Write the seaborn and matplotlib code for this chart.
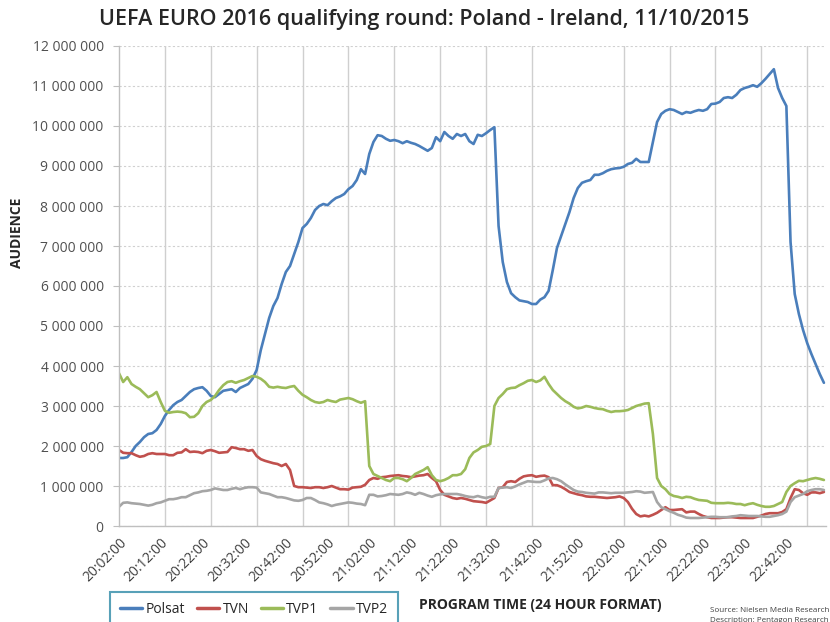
# ============================================================================
# IMPORTS
# ============================================================================

import numpy as np
import pandas as pd
import matplotlib
matplotlib.use('Agg')
import matplotlib.pyplot as plt
from matplotlib.ticker import FuncFormatter, MultipleLocator
import seaborn as sns

# ============================================================================
# DATA (audience in millions, one value per minute from 20:02)
# ============================================================================

channels = ['Polsat', 'TVN', 'TVP1', 'TVP2']
colors = ['#4a7ebb', '#c0504d', '#9bbb59', '#a5a5a5']

polsat = [
    1.70, 1.70, 1.72, 1.85, 2.00, 2.10, 2.22, 2.30, 2.32, 2.40,
    2.55, 2.75, 2.90, 3.02, 3.10, 3.15, 3.25, 3.35, 3.42, 3.45,
    3.47, 3.38, 3.25, 3.22, 3.30, 3.38, 3.40, 3.42, 3.35, 3.45,
    3.50, 3.55, 3.68, 3.90, 4.40, 4.80, 5.20, 5.50, 5.70, 6.05,
    6.35, 6.50, 6.80, 7.10, 7.45, 7.55, 7.70, 7.90, 8.00, 8.05,
    8.02, 8.12, 8.20, 8.24, 8.30, 8.42, 8.50, 8.65, 8.92, 8.80,
    9.30, 9.60, 9.77, 9.75, 9.68, 9.63, 9.65, 9.62, 9.57, 9.62,
    9.58, 9.55, 9.50, 9.44, 9.38, 9.45, 9.72, 9.62, 9.85, 9.75,
    9.68, 9.80, 9.75, 9.80, 9.62, 9.55, 9.78, 9.75, 9.82, 9.90,
    9.97, 7.50, 6.60, 6.10, 5.82, 5.72, 5.64, 5.62, 5.60, 5.55,
    5.55, 5.66, 5.72, 5.88, 6.40, 6.95, 7.25, 7.55, 7.85, 8.20,
    8.45, 8.58, 8.62, 8.65, 8.78, 8.78, 8.82, 8.88, 8.92, 8.94,
    8.95, 8.98, 9.05, 9.08, 9.18, 9.10, 9.10, 9.10, 9.60, 10.10,
    10.30, 10.38, 10.42, 10.40, 10.35, 10.30, 10.35, 10.33, 10.37, 10.40,
    10.38, 10.42, 10.55, 10.56, 10.60, 10.70, 10.72, 10.70, 10.78, 10.90,
    10.95, 10.98, 11.02, 10.98, 11.07, 11.18, 11.30, 11.42, 10.95, 10.70,
    10.50, 7.10, 5.80, 5.30, 4.90, 4.57, 4.30, 4.05, 3.80, 3.58,
]

tvn = [
    1.90, 1.83, 1.82, 1.82, 1.77, 1.73, 1.75, 1.80, 1.82, 1.80,
    1.80, 1.80, 1.77, 1.77, 1.83, 1.84, 1.92, 1.85, 1.86, 1.85,
    1.82, 1.88, 1.90, 1.87, 1.83, 1.84, 1.85, 1.97, 1.95, 1.92,
    1.92, 1.88, 1.90, 1.75, 1.67, 1.63, 1.60, 1.57, 1.55, 1.50,
    1.55, 1.40, 1.00, 0.97, 0.97, 0.96, 0.95, 0.97, 0.97, 0.95,
    0.97, 1.00, 0.96, 0.92, 0.92, 0.91, 0.96, 0.97, 0.98, 1.03,
    1.15, 1.20, 1.18, 1.22, 1.23, 1.25, 1.26, 1.27, 1.25, 1.24,
    1.22, 1.24, 1.26, 1.27, 1.30, 1.20, 1.12, 0.90, 0.78, 0.74,
    0.70, 0.68, 0.70, 0.68, 0.65, 0.62, 0.61, 0.60, 0.58, 0.64,
    0.70, 0.95, 0.97, 1.10, 1.12, 1.10, 1.18, 1.24, 1.26, 1.27,
    1.23, 1.25, 1.26, 1.22, 1.02, 1.02, 0.98, 0.92, 0.85, 0.82,
    0.79, 0.77, 0.74, 0.73, 0.73, 0.72, 0.71, 0.70, 0.71, 0.72,
    0.74, 0.70, 0.60, 0.43, 0.30, 0.24, 0.26, 0.24, 0.28, 0.33,
    0.40, 0.47, 0.40, 0.40, 0.41, 0.42, 0.34, 0.36, 0.36, 0.30,
    0.25, 0.22, 0.20, 0.20, 0.20, 0.21, 0.22, 0.22, 0.21, 0.20,
    0.20, 0.20, 0.20, 0.23, 0.26, 0.30, 0.32, 0.32, 0.32, 0.35,
    0.42, 0.70, 0.92, 0.90, 0.82, 0.78, 0.84, 0.84, 0.82, 0.85,
]

tvp1 = [
    3.82, 3.60, 3.72, 3.55, 3.48, 3.42, 3.32, 3.22, 3.27, 3.35,
    3.10, 2.88, 2.83, 2.85, 2.86, 2.85, 2.82, 2.72, 2.73, 2.82,
    3.00, 3.10, 3.15, 3.25, 3.40, 3.52, 3.60, 3.62, 3.58, 3.62,
    3.65, 3.70, 3.75, 3.73, 3.68, 3.60, 3.48, 3.46, 3.48, 3.46,
    3.45, 3.48, 3.50, 3.38, 3.28, 3.22, 3.15, 3.10, 3.08, 3.10,
    3.15, 3.12, 3.10, 3.16, 3.18, 3.20, 3.17, 3.12, 3.08, 3.12,
    1.50, 1.30, 1.25, 1.20, 1.15, 1.12, 1.20, 1.20, 1.17, 1.12,
    1.20, 1.30, 1.35, 1.40, 1.47, 1.27, 1.15, 1.12, 1.15, 1.20,
    1.27, 1.27, 1.30, 1.42, 1.70, 1.84, 1.90, 1.98, 2.00, 2.05,
    3.00, 3.20, 3.30, 3.42, 3.45, 3.46, 3.52, 3.57, 3.63, 3.65,
    3.60, 3.64, 3.73, 3.55, 3.40, 3.30, 3.20, 3.12, 3.06, 2.98,
    2.94, 2.96, 3.00, 2.98, 2.95, 2.93, 2.92, 2.88, 2.85, 2.87,
    2.87, 2.88, 2.90, 2.95, 3.00, 3.03, 3.06, 3.07, 2.30, 1.20,
    1.00, 0.92, 0.80, 0.75, 0.73, 0.70, 0.73, 0.72, 0.68, 0.65,
    0.64, 0.63, 0.58, 0.57, 0.57, 0.57, 0.58, 0.57, 0.55, 0.55,
    0.52, 0.55, 0.57, 0.53, 0.50, 0.48, 0.48, 0.50, 0.55, 0.60,
    0.85, 1.00, 1.07, 1.13, 1.12, 1.15, 1.18, 1.20, 1.18, 1.15,
]

tvp2 = [
    0.48, 0.58, 0.59, 0.57, 0.56, 0.55, 0.53, 0.51, 0.53, 0.57,
    0.59, 0.63, 0.67, 0.67, 0.69, 0.72, 0.72, 0.77, 0.82, 0.84,
    0.87, 0.88, 0.90, 0.94, 0.92, 0.90, 0.90, 0.93, 0.95, 0.92,
    0.95, 0.97, 0.97, 0.96, 0.84, 0.82, 0.80, 0.76, 0.72, 0.72,
    0.70, 0.67, 0.64, 0.63, 0.65, 0.70, 0.70, 0.65, 0.59, 0.57,
    0.54, 0.50, 0.53, 0.55, 0.57, 0.59, 0.58, 0.56, 0.55, 0.52,
    0.78, 0.78, 0.74, 0.75, 0.77, 0.80, 0.79, 0.78, 0.80, 0.84,
    0.82, 0.78, 0.83, 0.80, 0.76, 0.73, 0.77, 0.79, 0.80, 0.80,
    0.80, 0.80, 0.78, 0.75, 0.73, 0.72, 0.75, 0.72, 0.70, 0.73,
    0.73, 0.95, 0.96, 0.97, 0.95, 0.99, 1.04, 1.08, 1.12, 1.11,
    1.10, 1.10, 1.14, 1.19, 1.20, 1.17, 1.12, 1.04, 0.97, 0.90,
    0.86, 0.85, 0.83, 0.82, 0.81, 0.84, 0.84, 0.83, 0.82, 0.83,
    0.83, 0.83, 0.84, 0.85, 0.87, 0.86, 0.83, 0.84, 0.85, 0.60,
    0.47, 0.42, 0.37, 0.33, 0.28, 0.25, 0.21, 0.20, 0.20, 0.20,
    0.21, 0.22, 0.23, 0.23, 0.22, 0.22, 0.22, 0.24, 0.25, 0.27,
    0.26, 0.25, 0.25, 0.25, 0.24, 0.23, 0.23, 0.25, 0.27, 0.30,
    0.36, 0.60, 0.72, 0.76, 0.80, 0.87, 0.90, 0.92, 0.92, 0.90,
]

tick_labels = ['20:02:00', '20:12:00', '20:22:00', '20:32:00', '20:42:00',
               '20:52:00', '21:02:00', '21:12:00', '21:22:00', '21:32:00',
               '21:42:00', '21:52:00', '22:02:00', '22:12:00', '22:22:00',
               '22:32:00', '22:42:00']

minute = np.arange(len(polsat))
frames = []
for name, vals in zip(channels, [polsat, tvn, tvp1, tvp2]):
    frames.append(pd.DataFrame({'minute': minute,
                                'audience': np.array(vals) * 1e6,
                                'channel': name}))
df = pd.concat(frames, ignore_index=True)

# ============================================================================
# PLOT
# ============================================================================

sns.set_style("white")
plt.rcParams['font.family'] = ['Open Sans', 'DejaVu Sans']

fig = plt.figure(figsize=(8.3, 6.22), dpi=100)
ax = fig.add_axes([119 / 830, 1 - 526 / 622, 707 / 830, 480 / 622])

sns.lineplot(data=df, x='minute', y='audience', hue='channel',
             hue_order=channels, palette=colors, linewidth=1.9, ax=ax)

ax.set_xlim(0, 169.5)
ax.set_ylim(0, 12e6)

# labels every 10 minutes, gridlines every 11 (as in the source chart)
ax.set_xticks(np.arange(len(tick_labels)) * 10)
ax.set_xticklabels(tick_labels, rotation=45, ha='right',
                   rotation_mode='anchor', fontsize=10, color='#404040')
ax.xaxis.set_minor_locator(MultipleLocator(11))
ax.tick_params(axis='x', which='both', length=0, pad=7)
ax.grid(axis='x', which='minor', color='#cfcfcf', linewidth=1)

ax.yaxis.set_major_locator(MultipleLocator(1e6))
ax.yaxis.set_major_formatter(FuncFormatter(lambda v, p: f"{int(v):,}".replace(',', ' ')))
ax.tick_params(axis='y', length=4.5, color='#bfbfbf', labelsize=10,
               labelcolor='#505050', pad=6.5, left=True)
ax.grid(axis='y', which='major', color='#d0d0d0', linestyle=(0, (2, 2)),
        linewidth=0.8)

for side in ['top', 'right']:
    ax.spines[side].set_visible(False)
for side in ['left', 'bottom']:
    ax.spines[side].set_color('#bfbfbf')
    ax.spines[side].set_linewidth(1)

ax.set_xlabel('')
ax.set_ylabel('')

fig.text(424 / 830, 1 - 20 / 622,
         'UEFA EURO 2016 qualifying round: Poland - Ireland, 11/10/2015',
         ha='center', va='center', fontsize=15.5, fontweight='semibold')
fig.text(17 / 830, 1 - 233 / 622, 'AUDIENCE', rotation=90, ha='center',
         va='center', fontsize=10, fontweight='bold')
fig.text(540 / 830, 1 - 605 / 622, 'PROGRAM TIME (24 HOUR FORMAT)',
         ha='center', va='center', fontsize=10, fontweight='bold')
fig.text(710 / 830, 1 - 611 / 622, 'Source: Nielsen Media Research',
         ha='left', va='center', fontsize=5.8, color='#404040')
fig.text(710 / 830, 1 - 620 / 622, 'Description: Pentagon Research',
         ha='left', va='center', fontsize=5.8, color='#404040')

sns.move_legend(ax, 'upper left', bbox_to_anchor=(-0.0127, -0.1375),
                ncol=4, title=None, frameon=True, fontsize=10,
                handlelength=1.6, handletextpad=0.25, columnspacing=0.85,
                borderpad=0.7, borderaxespad=0, fancybox=False)
leg = ax.get_legend()
leg.get_frame().set_edgecolor('#2e8aa6')
leg.get_frame().set_linewidth(1.5)
for line in leg.get_lines():
    line.set_linewidth(2.5)

plt.savefig('out.png', dpi=100)
